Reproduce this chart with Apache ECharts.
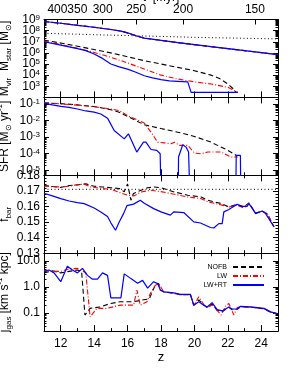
<!DOCTYPE html>
<html><head><meta charset="utf-8">
<script src="https://cdn.jsdelivr.net/npm/echarts@6/dist/echarts.min.js"></script>
<style>html,body{margin:0;padding:0;background:#fff}#c{width:293px;height:390px}</style>
</head><body><div id="c"></div>
<script>
// ================= DATA =================
const zMajor = [12, 14, 16, 18, 20, 22, 24];
const zMinorT = [11, 13, 15, 17, 19, 21, 23, 25];
const tLabels = [400, 350, 300, 250, 200, 150];          // cosmic time [Myr]
const tToZconst = 695;                                    // (1+z) = C * t^(-2/3)

// Panel 1: halo virial mass (same halo in all runs)
const mvirZ = [11, 12, 13, 14, 15, 15.6, 16, 16.5, 17, 18, 19, 20, 21, 22, 23, 24, 25];
const mvir  = [6.6e8, 4.6e8, 3.0e8, 2.0e8, 1.26e8, 9.1e7, 6.3e7, 3.5e7, 2.1e7, 1.35e7, 8.5e6, 5.5e6, 3.6e6, 2.4e6, 1.6e6, 1.05e6, 7.0e5];
// atomic-cooling mass (dotted)
const mcoolZ = [11, 14, 17, 20, 25];
const mcool  = [5.8e7, 4.3e7, 3.3e7, 2.5e7, 1.8e7];
// stellar masses
const mstarNofbZ = [11, 12, 13, 14, 15, 16, 17, 18, 19, 20, 21, 21.5, 22, 22.3, 22.5];
const mstarNofb  = [1.4e7, 7.6e6, 4.0e6, 2.0e6, 1.0e6, 4.5e5, 2.0e5, 1.0e5, 5.0e4, 2.5e4, 1.0e4, 5.0e3, 1.6e3, 630, 280];
const mstarLwZ = [11, 12, 13, 14, 15, 16, 17, 18, 19, 20, 21, 22, 22.4, 22.6];
const mstarLw  = [1.15e7, 5.6e6, 2.6e6, 1.1e6, 4.0e5, 1.26e5, 3.5e4, 1.0e4, 4.5e3, 2.5e3, 1.6e3, 800, 400, 280];
const mstarRtZ = [11, 12, 13, 13.5, 14, 14.5, 15, 15.5, 16, 16.5, 17, 17.5, 18, 18.5, 19, 19.6, 19.8, 22.6];
const mstarRt  = [1.0e7, 5.0e6, 2.4e6, 1.6e6, 8.0e5, 3.2e5, 1.0e5, 5.6e4, 3.5e4, 1.8e4, 8.9e3, 5.6e3, 4.0e3, 3.0e3, 2.8e3, 2.5e3, 280, 280];

// Panel 2: SFR [Msun/yr]  (1e-9 = no star formation)
const sfrNofbZ = [11, 12, 13, 14, 15, 15.5, 16, 16.5, 17, 18, 19, 20, 21, 21.5, 22, 22.5];
const sfrNofb  = [0.117, 0.105, 0.089, 0.071, 0.045, 0.032, 0.018, 0.010, 5.6e-3, 3.3e-3, 2.0e-3, 1.1e-3, 5.0e-4, 2.8e-4, 1.6e-4, 7.9e-5];
const sfrLwZ = [11, 12, 13, 14, 15, 15.5, 16, 16.5, 17, 17.4, 17.8, 18.2, 18.6, 18.8, 19.1, 19.6, 20.0, 20.4, 20.8, 21.6, 22.0, 22.2, 22.6];
const sfrLw  = [0.117, 0.102, 0.085, 0.068, 0.05, 0.04, 0.02, 0.012, 7.1e-3, 2.0e-3, 5.0e-4, 4.5e-4, 4.0e-4, 5.0e-4, 3.2e-4, 3.2e-4, 1.1e-4, 1.0e-4, 1.26e-4, 1.26e-4, 7.9e-5, 6.3e-5, 6.3e-5];
const sfrRtZ = [11, 11.5, 12, 12.5, 13, 13.5, 14, 14.4, 14.8, 15.2, 15.8, 16.05, 16.55, 16.95, 17.1, 17.4, 17.75, 17.95, 18.05, 19.0, 19.05, 19.3, 19.5, 19.65, 19.8, 22.45, 22.5, 22.75, 22.8];
const sfrRt  = [0.112, 0.089, 0.071, 0.063, 0.05, 0.038, 0.032, 0.025, 0.014, 2.5e-3, 7.9e-4, 1.6e-3, 1.26e-4, 5.0e-4, 5.0e-4, 1.8e-4, 1.6e-4, 1.0e-4, 1e-9, 1e-9, 6.3e-5, 3.5e-4, 2.5e-4, 1.26e-4, 1e-9, 1e-9, 7.9e-5, 7.9e-5, 1e-9];

// Panel 3: baryon fraction
const fbarCosmicZ = [11, 25];
const fbarCosmic  = [0.171, 0.171];
const fbarNofbZ = [11, 11.5, 12, 12.5, 13, 13.5, 14, 14.5, 15, 15.5, 15.8, 16.0, 16.2, 16.35, 16.8, 17.2, 17.6, 18.0, 18.8, 19.6, 20.4, 20.8, 21.6, 22.06, 22.56, 22.96, 23.26, 23.66, 24.06, 24.36, 24.76];
const fbarNofb  = [0.1735, 0.1728, 0.1722, 0.1735, 0.1738, 0.1745, 0.173, 0.1725, 0.172, 0.1715, 0.1695, 0.1745, 0.164, 0.1683, 0.1704, 0.172, 0.1725, 0.172, 0.1693, 0.1672, 0.1661, 0.164, 0.1619, 0.1597, 0.1614, 0.1597, 0.1623, 0.1558, 0.1569, 0.1554, 0.1469];
const fbarLwZ = [11, 11.5, 12, 12.5, 13, 13.4, 13.8, 14.5, 15, 15.5, 16.0, 16.4, 16.8, 17.4, 18.0, 18.8, 19.6, 20.4, 20.8, 21.6, 22.06, 22.56, 22.96, 23.26, 23.66, 24.06, 24.36, 24.76];
const fbarLw  = [0.173, 0.1727, 0.1725, 0.173, 0.174, 0.1743, 0.1725, 0.1715, 0.171, 0.169, 0.1672, 0.1668, 0.1693, 0.1704, 0.1695, 0.1678, 0.1661, 0.165, 0.163, 0.161, 0.1597, 0.1608, 0.159, 0.1619, 0.1558, 0.1569, 0.1554, 0.1469];
const fbarRtZ = [11, 11.5, 12, 12.5, 13, 13.4, 14, 14.4, 14.8, 15.0, 15.28, 15.5, 15.76, 15.96, 16.36, 16.76, 17.0, 17.56, 18.0, 18.56, 18.76, 19.36, 19.96, 20.36, 20.96, 21.16, 21.46, 21.66, 21.76, 22.06, 22.56, 22.76, 23.16, 23.26, 23.66, 24.06, 24.26, 24.76];
const fbarRt  = [0.1685, 0.1668, 0.165, 0.1635, 0.1625, 0.1618, 0.159, 0.1565, 0.1535, 0.1495, 0.1447, 0.15, 0.1554, 0.1605, 0.1615, 0.164, 0.162, 0.1586, 0.1565, 0.1544, 0.1565, 0.1561, 0.1501, 0.1494, 0.1465, 0.1462, 0.149, 0.149, 0.1565, 0.158, 0.1614, 0.1601, 0.1601, 0.1619, 0.1554, 0.1571, 0.1554, 0.1469];

// Panel 4: specific angular momentum of gas [km/s kpc]
const jNofbZ = [11, 11.5, 12, 12.5, 13, 13.25, 13.45, 13.76, 14.36, 14.96, 15.56, 16.36, 16.96, 17.3, 17.66, 17.86, 17.96, 18.16, 18.76, 19.16, 19.76, 19.96, 20.26, 20.56, 20.76, 21.06, 21.36, 21.66, 22.06, 22.26, 22.56, 22.76, 23.36, 24.16, 24.56, 24.96];
const jNofb  = [3.5, 4.2, 3.5, 4.0, 4.5, 4.0, 0.083, 0.15, 0.17, 0.23, 0.27, 0.27, 0.32, 0.35, 1.2, 1.35, 0.76, 0.65, 0.59, 0.5, 0.5, 0.2, 0.32, 0.2, 0.16, 0.22, 0.126, 0.112, 0.166, 0.132, 0.138, 0.174, 0.166, 0.145, 0.107, 0.093];
const jLwZ = [11, 11.5, 12, 12.5, 13, 13.5, 13.76, 14.16, 14.76, 15.56, 16.36, 16.56, 16.76, 17.16, 17.36, 17.66, 17.86, 18.16, 18.76, 19.16, 19.76, 19.96, 20.26, 20.56, 20.76, 21.06, 21.36, 21.6, 21.9, 22.06, 22.36, 22.56, 22.76, 23.36, 24.16, 24.56, 24.96];
const jLw  = [4.2, 4.0, 4.0, 5.0, 5.2, 3.5, 0.07, 0.15, 0.15, 0.2, 0.2, 0.76, 0.2, 0.27, 0.56, 1.17, 1.35, 0.65, 0.56, 0.5, 0.5, 0.19, 0.42, 0.21, 0.16, 0.2, 0.126, 0.083, 0.2, 0.23, 0.083, 0.16, 0.174, 0.166, 0.145, 0.107, 0.093];
const jRtZ = [11, 11.3, 11.6, 12.0, 12.4, 12.7, 13.0, 13.3, 13.6, 13.9, 14.2, 14.5, 14.8, 15.0, 15.6, 15.8, 16.2, 16.6, 16.9, 17.2, 17.56, 17.8, 17.96, 18.16, 18.76, 19.16, 19.76, 19.96, 20.26, 20.56, 20.76, 21.06, 21.36, 21.66, 22.06, 22.26, 22.56, 22.76, 23.36, 24.16, 24.56, 24.96];
const jRt  = [4.0, 4.5, 3.5, 1.6, 6.3, 4.5, 3.5, 5.2, 2.8, 2.0, 2.0, 3.5, 2.8, 0.38, 0.38, 3.2, 2.1, 1.4, 1.8, 0.9, 1.6, 1.35, 0.76, 0.65, 0.59, 0.52, 0.52, 0.2, 0.27, 0.2, 0.17, 0.25, 0.135, 0.12, 0.17, 0.14, 0.145, 0.18, 0.17, 0.15, 0.11, 0.095];

// ================= CHART =================
const FONT = '"Liberation Sans", Arial, sans-serif';
const tZ = tLabels.map(t => tToZconst * Math.pow(t, -2 / 3) - 1);
const BLACK = '#000', RED = '#ff0000', BLUE = '#0000ff';
const DASH = [5, 3], DASHDOT = [5, 2, 1, 2];

const gridTops = [19.5, 97.4, 175.3, 253.2];
const gridH = 77.9;
const grid = gridTops.map(t => ({ left: 44, right: 15, top: t, height: gridH, outerBoundsMode: 'none', containLabel: false }));

const yCfg = [
  { type: 'log', min: 1e2, max: 1e9, labels: [1e3, 1e4, 1e5, 1e6, 1e7, 1e8, 1e9], fmt: 'exp' },
  { type: 'log', min: 5e-6, max: 0.25, labels: [1e-5, 1e-4, 1e-3, 1e-2, 1e-1], fmt: 'exp' },
  { type: 'value', min: 0.13, max: 0.18, labels: [0.13, 0.14, 0.15, 0.16, 0.17, 0.18], fmt: 'f2' },
  { type: 'log', min: 0.02, max: 20, labels: [0.1, 1, 10], fmt: 'f1' }
];
function logMinor(min, max) {
  const out = [];
  for (let n = -8; n <= 10; n++) for (let k = 1; k <= 9; k++) {
    const v = k * Math.pow(10, n);
    if (v >= min * 0.9999 && v <= max * 1.0001) out.push(v);
  }
  return out;
}
function linMinor(min, max, step) {
  const out = [];
  for (let v = min; v <= max + 1e-9; v += step) out.push(Math.round(v * 1e4) / 1e4);
  return out;
}
// split a label list into alternating halves so neighbouring labels never collide
const evens = a => a.filter((_, i) => i % 2 === 0);
const odds = a => a.filter((_, i) => i % 2 === 1);

const richBase = {
  b: { fontSize: 12, lineHeight: 12, fontFamily: FONT, color: '#000' },
  s: { fontSize: 8, lineHeight: 4, verticalAlign: 'top', fontFamily: FONT, color: '#000' }
};
const nameRich = {
  i: { fontSize: 12, lineHeight: 17, fontFamily: FONT, color: '#000' },
  sub: { fontSize: 8, lineHeight: 8, verticalAlign: 'bottom', fontFamily: FONT, color: '#000' },
  sup: { fontSize: 8, lineHeight: 8, verticalAlign: 'top', fontFamily: FONT, color: '#000' }
};
const yNames = [
  '{i|M}{sub|vir}  {i|M}{sub|star} {i|[M}{sub|⊙}{i|]}',
  '{i|SFR [M}{sub|⊙}{i| yr}{sup|-1}{i|]}',
  '{i|f}{sub|bar}',
  '{i|j}{sub|gas}{i| [km s}{sup|-1}{i| kpc]}'
];
const yNameGaps = [31, 31, 31, 31];

const xAxis = [], yAxis = [];
const XI = [], YI = [];
const axLine = { show: true, onZero: false, lineStyle: { color: '#000', width: 1 } };
const noLine = { show: false, onZero: false };
const lblCommon = { interval: 0, hideOverlap: false, showMinLabel: true, showMaxLabel: true };
const tFmt = v => { let bi = 0, bd = 1e9; tZ.forEach((z, i) => { const d = Math.abs(z - v); if (d < bd) { bd = d; bi = i; } }); return String(tLabels[bi]); };

for (let g = 0; g < 4; g++) {
  XI[g] = xAxis.length;
  xAxis.push({
    type: 'value', gridIndex: g, position: 'bottom', min: 11, max: 25,
    axisLine: axLine, splitLine: { show: false },
    axisTick: { show: true, inside: true, length: 6, customValues: zMajor, lineStyle: { color: '#000' } },
    axisLabel: Object.assign({ show: g === 3, customValues: zMajor, margin: 7, fontSize: 12, fontFamily: FONT, color: '#000', formatter: v => String(v) }, lblCommon),
    name: g === 3 ? 'z' : '', nameLocation: 'middle', nameGap: 20, nameMoveOverlap: false,
    nameTextStyle: { fontSize: 13, fontFamily: FONT, color: '#000' }
  });
  xAxis.push({
    type: 'value', gridIndex: g, position: 'bottom', min: 11, max: 25,
    axisLine: noLine, splitLine: { show: false }, axisLabel: { show: false },
    axisTick: { show: true, inside: true, length: 3, customValues: zMinorT, lineStyle: { color: '#000' } }
  });
  if (g === 0) {
    [evens(tZ), odds(tZ)].forEach((vals, k) => {
      xAxis.push({
        type: 'value', gridIndex: g, position: 'top', min: 11, max: 25,
        axisLine: k === 0 ? axLine : noLine, splitLine: { show: false },
        axisTick: { show: true, inside: true, length: 5, customValues: vals, lineStyle: { color: '#000' } },
        axisLabel: Object.assign({ show: true, customValues: vals, margin: 4, fontSize: 12, fontFamily: FONT, color: '#000', formatter: tFmt }, lblCommon),
        name: k === 0 ? 't  [Myr]' : '', nameLocation: 'middle', nameGap: 16, nameMoveOverlap: false,
        nameTextStyle: { fontSize: 12, fontFamily: FONT, color: '#000' }
      });
    });
  } else {
    xAxis.push({
      type: 'value', gridIndex: g, position: 'top', min: 11, max: 25,
      axisLine: axLine, splitLine: { show: false }, axisLabel: { show: false },
      axisTick: { show: true, inside: true, length: 6, customValues: zMajor, lineStyle: { color: '#000' } }
    });
    xAxis.push({
      type: 'value', gridIndex: g, position: 'top', min: 11, max: 25,
      axisLine: noLine, splitLine: { show: false }, axisLabel: { show: false },
      axisTick: { show: true, inside: true, length: 3, customValues: zMinorT, lineStyle: { color: '#000' } }
    });
  }

  const c = yCfg[g];
  const minorVals = c.type === 'log' ? logMinor(c.min, c.max) : linMinor(c.min, c.max, 0.002);
  let fmt;
  if (c.fmt === 'exp') fmt = v => '{b|10}{s|' + Math.round(Math.log10(v)) + '}';
  else if (c.fmt === 'f2') fmt = v => v.toFixed(2);
  else fmt = v => v.toFixed(1);
  [evens(c.labels), odds(c.labels)].forEach((vals, k) => {
    const ax = {
      type: c.type, gridIndex: g, position: 'left', min: c.min, max: c.max, logBase: 10,
      axisLine: k === 0 ? axLine : noLine, splitLine: { show: false },
      axisTick: { show: true, inside: true, length: 5, customValues: vals, lineStyle: { color: '#000' } },
      axisLabel: Object.assign({ show: true, customValues: vals, margin: 4, fontSize: 12, fontFamily: FONT, color: '#000', formatter: fmt, rich: richBase }, lblCommon)
    };
    if (k === 0) {
      YI[g] = yAxis.length;
      Object.assign(ax, {
        name: yNames[g], nameLocation: 'middle', nameRotate: 90, nameGap: yNameGaps[g], nameMoveOverlap: false,
        nameTextStyle: { fontSize: 12, fontFamily: FONT, color: '#000', rich: nameRich }
      });
    }
    yAxis.push(ax);
  });
  yAxis.push({
    type: c.type, gridIndex: g, position: 'left', min: c.min, max: c.max, logBase: 10,
    axisLine: noLine, splitLine: { show: false }, axisLabel: { show: false },
    axisTick: { show: true, inside: true, length: 2.5, customValues: minorVals, lineStyle: { color: '#000' } }
  });
  yAxis.push({
    type: c.type, gridIndex: g, position: 'right', min: c.min, max: c.max, logBase: 10,
    axisLine: axLine, splitLine: { show: false }, axisLabel: { show: false },
    axisTick: { show: true, inside: true, length: 5, customValues: c.labels, lineStyle: { color: '#000' } }
  });
  yAxis.push({
    type: c.type, gridIndex: g, position: 'right', min: c.min, max: c.max, logBase: 10,
    axisLine: noLine, splitLine: { show: false }, axisLabel: { show: false },
    axisTick: { show: true, inside: true, length: 2.5, customValues: minorVals, lineStyle: { color: '#000' } }
  });
}

function pts(zs, vs) { return zs.map((z, i) => [z, vs[i]]); }
function line(name, zs, vs, g, color, dash, width, zz) {
  return {
    type: 'line', name: name, xAxisIndex: XI[g], yAxisIndex: YI[g], data: pts(zs, vs),
    symbol: 'none', showSymbol: false, clip: true, z: zz, silent: true,
    lineStyle: { color: color, width: width, type: dash }, itemStyle: { color: color }
  };
}

const series = [
  line('', mcoolZ, mcool, 0, BLACK, [1, 2.5], 1, 1),
  line('NOFB', mvirZ, mvir, 0, BLACK, DASH, 1.1, 2),
  line('LW', mvirZ, mvir, 0, RED, DASHDOT, 1.1, 3),
  line('LW+RT', mvirZ, mvir, 0, BLUE, 'solid', 1.2, 4),
  line('NOFB', mstarNofbZ, mstarNofb, 0, BLACK, DASH, 1.1, 2),
  line('LW', mstarLwZ, mstarLw, 0, RED, DASHDOT, 1.1, 3),
  line('LW+RT', mstarRtZ, mstarRt, 0, BLUE, 'solid', 1.2, 4),

  line('NOFB', sfrNofbZ, sfrNofb, 1, BLACK, DASH, 1.1, 2),
  line('LW', sfrLwZ, sfrLw, 1, RED, DASHDOT, 1.1, 3),
  line('LW+RT', sfrRtZ, sfrRt, 1, BLUE, 'solid', 1.2, 4),

  line('', fbarCosmicZ, fbarCosmic, 2, BLACK, [1, 2.5], 1, 1),
  line('NOFB', fbarNofbZ, fbarNofb, 2, BLACK, DASH, 1.1, 2),
  line('LW', fbarLwZ, fbarLw, 2, RED, DASHDOT, 1.1, 3),
  line('LW+RT', fbarRtZ, fbarRt, 2, BLUE, 'solid', 1.2, 4),

  line('NOFB', jNofbZ, jNofb, 3, BLACK, DASH, 1.1, 2),
  line('LW', jLwZ, jLw, 3, RED, DASHDOT, 1.1, 3),
  line('LW+RT', jRtZ, jRt, 3, BLUE, 'solid', 1.2, 4)
];

const legendNames = ['NOFB', 'LW', 'LW+RT'];
const legendTops = [263.5, 272.5, 281.5];
const legend = legendNames.map((n, i) => ({
  data: [n], right: 28, top: legendTops[i], orient: 'horizontal', align: 'right',
  itemWidth: 31, itemHeight: 6, itemGap: 0, padding: 0, selectedMode: false,
  itemStyle: { opacity: 0 },
  textStyle: { fontSize: 7, fontFamily: FONT, color: '#000', padding: [0, 1, 0, 0] }
}));

const chart = echarts.init(document.getElementById('c'), null, { renderer: 'canvas' });
chart.setOption({
  animation: false,
  backgroundColor: '#fff',
  grid: grid, xAxis: xAxis, yAxis: yAxis, legend: legend, series: series
});
</script>
</body></html>
